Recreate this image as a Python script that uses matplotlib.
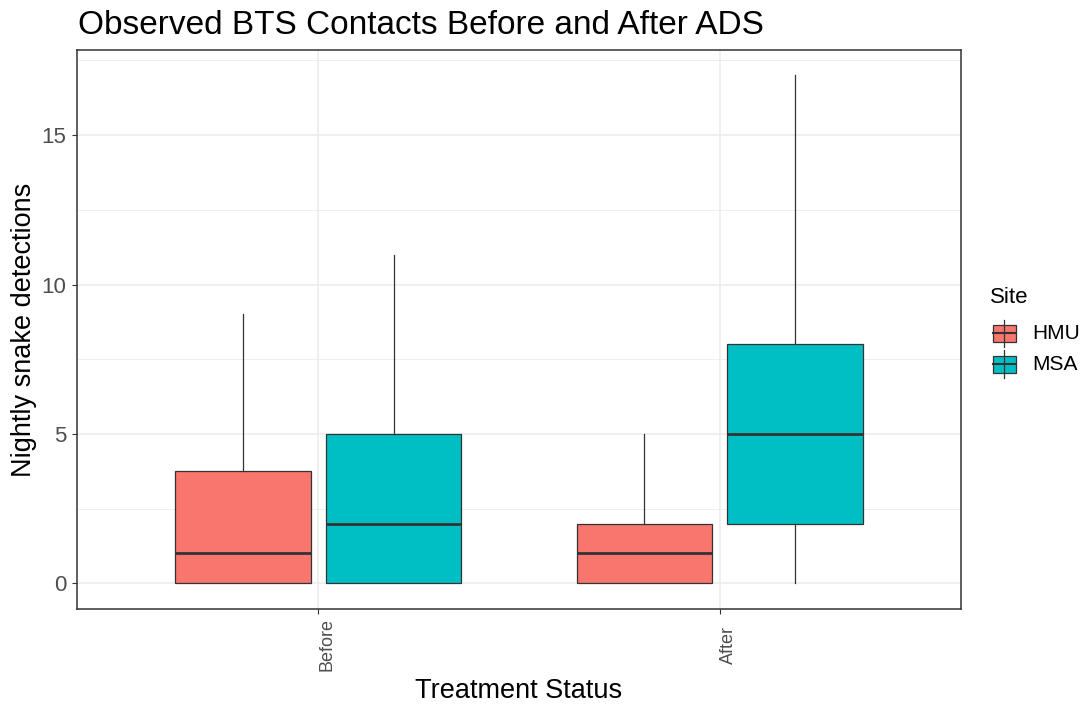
import matplotlib
matplotlib.use("Agg")
import matplotlib.pyplot as plt
from matplotlib.patches import Rectangle
from matplotlib.lines import Line2D
from matplotlib.ticker import MultipleLocator

plt.rcParams["font.family"] = ["Liberation Sans", "DejaVu Sans"]

# Boxplot summary statistics per treatment group (Before, After) and site
groups = ["Before", "After"]
sites = ["HMU", "MSA"]
site_colors = ["#F8766D", "#00BFC4"]

hmu_whislo = [0, 0]
hmu_q1 = [0, 0]
hmu_med = [1, 1]
hmu_q3 = [3.75, 2]
hmu_whishi = [9, 5]

msa_whislo = [0, 0]
msa_q1 = [0, 2]
msa_med = [2, 5]
msa_q3 = [5, 8]
msa_whishi = [11, 17]

yticks = [0, 5, 10, 15]

W, H = 1089, 704
fig = plt.figure(figsize=(W / 100, H / 100), dpi=100)
fig.patch.set_facecolor("white")

left, right, top, bottom = 77.3, 960.7, 50.0, 608.7
ax = fig.add_axes([left / W, 1 - bottom / H, (right - left) / W, (bottom - top) / H])

edge = "#333333"
dodge = 0.1875
box_w = 0.3375

series = [
    (hmu_whislo, hmu_q1, hmu_med, hmu_q3, hmu_whishi),
    (msa_whislo, msa_q1, msa_med, msa_q3, msa_whishi),
]
for s, (lo, q1, med, q3, hi) in enumerate(series):
    stats = []
    for g in range(len(groups)):
        stats.append(dict(whislo=lo[g], q1=q1[g], med=med[g], q3=q3[g],
                          whishi=hi[g], fliers=[]))
    pos = [g + 1 + (-dodge if s == 0 else dodge) for g in range(len(groups))]
    ax.bxp(stats, positions=pos, widths=box_w, patch_artist=True,
           showcaps=False, showfliers=False, manage_ticks=False,
           boxprops=dict(facecolor=site_colors[s], edgecolor=edge, linewidth=0.9),
           whiskerprops=dict(color=edge, linewidth=0.9),
           medianprops=dict(color=edge, linewidth=2.0, solid_capstyle="butt"),
           zorder=3)

ax.set_xlim(0.4, 2.6)
ax.set_ylim(-0.85, 17.85)

ax.set_yticks(yticks)
ax.set_yticklabels([str(v) for v in yticks])
ax.yaxis.set_minor_locator(MultipleLocator(2.5))
ax.set_xticks([1, 2])
ax.set_xticklabels(groups, rotation=90, va="center", ha="left")

ax.grid(which="major", color="#EBEBEB", linewidth=1.1, zorder=0)
ax.grid(which="minor", axis="y", color="#EBEBEB", linewidth=0.55, zorder=0)
ax.set_axisbelow(True)

for sp in ax.spines.values():
    sp.set_color(edge)
    sp.set_linewidth(1.1)

ax.tick_params(axis="y", which="major", length=3.6, width=0.8, color=edge,
               labelsize=16, labelcolor="#4D4D4D", pad=4.5)
ax.tick_params(axis="x", which="major", length=3.6, width=0.8, color=edge,
               labelsize=13, labelcolor="#4D4D4D", pad=22.5)
ax.tick_params(which="minor", length=0)

# Titles
fig.text(78 / W, 1 - 34 / H, "Observed BTS Contacts Before and After ADS",
         fontsize=24, ha="left", va="baseline", color="black")
fig.text(519 / W, 1 - 698 / H, "Treatment Status", fontsize=19.5,
         ha="center", va="baseline", color="black")
fig.text(24 / W, 1 - 330 / H, "Nightly snake detections", fontsize=19.5,
         rotation=90, ha="center", va="center", color="black")

# Legend drawn in figure pixel space
def fx(px):
    return px / W


def fy(py):
    return 1 - py / H


fig.text(fx(990), fy(303), "Site", fontsize=16, ha="left", va="baseline")
key_x0, key_x1 = 993.0, 1015.7
key_tops = [325.0, 356.0]
key_h = 16.7
for name, col, kt in zip(sites, site_colors, key_tops):
    xc = (key_x0 + key_x1) / 2
    fig.add_artist(Line2D([fx(xc), fx(xc)], [fy(kt - 5.5), fy(kt + key_h + 5.5)],
                          color=edge, linewidth=0.9, transform=fig.transFigure))
    fig.add_artist(Rectangle((fx(key_x0), fy(kt + key_h)), fx(key_x1) - fx(key_x0),
                             fy(kt) - fy(kt + key_h), facecolor=col, edgecolor=edge,
                             linewidth=0.9, transform=fig.transFigure))
    fig.add_artist(Line2D([fx(key_x0), fx(key_x1)], [fy(kt + key_h / 2)] * 2,
                          color=edge, linewidth=1.5, transform=fig.transFigure))
    fig.text(fx(1032), fy(kt + key_h / 2), name, fontsize=15, ha="left",
             va="center")

fig.savefig("out.png", dpi=100, facecolor="white")
